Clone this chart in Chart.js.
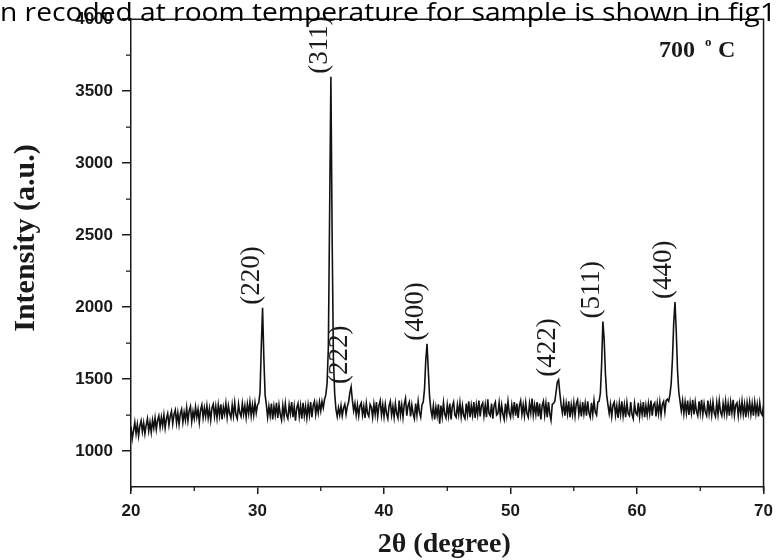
<!DOCTYPE html>
<html>
<head>
<meta charset="utf-8">
<script src="https://cdn.jsdelivr.net/npm/chart.js@4/dist/chart.umd.min.js"></script>
<style>
  body { margin: 0; background: #fff; }
  #wrap { width: 780px; height: 560px; }
</style>
</head>
<body>
<div id="wrap"><canvas id="xrd" width="780" height="560"></canvas></div>
<script>
// XRD pattern, 700 C sample. one value per 0.1 deg, 20.0 .. 70.0
const twoThetaStart = 20;
const twoThetaStep = 0.1;
const intensity = [
  1170, 1085, 1140, 1200, 1120, 1185, 1105, 1175, 1210, 1135,
  1195, 1120, 1180, 1225, 1140, 1200, 1130, 1215, 1160, 1230,
  1150, 1215, 1245, 1165, 1235, 1175, 1250, 1160, 1225, 1260,
  1180, 1240, 1275, 1190, 1255, 1285, 1195, 1265, 1185, 1260,
  1290, 1200, 1270, 1215, 1300, 1210, 1280, 1310, 1205, 1275,
  1225, 1305, 1235, 1290, 1200, 1285, 1320, 1230, 1300, 1240,
  1315, 1230, 1295, 1215, 1300, 1325, 1240, 1310, 1230, 1320,
  1245, 1325, 1220, 1305, 1255, 1330, 1235, 1315, 1260, 1230,
  1320, 1245, 1335, 1250, 1225, 1325, 1265, 1240, 1330, 1255,
  1315, 1235, 1325, 1260, 1340, 1245, 1320, 1250, 1335, 1265,
  1320, 1335, 1410, 1730, 1995, 1650, 1390, 1320, 1235, 1310,
  1245, 1330, 1220, 1310, 1250, 1335, 1230, 1320, 1255, 1215,
  1315, 1240, 1330, 1250, 1225, 1320, 1260, 1340, 1235, 1310,
  1210, 1300, 1330, 1240, 1315, 1225, 1335, 1245, 1310, 1230,
  1320, 1250, 1340, 1235, 1315, 1345, 1255, 1325, 1265, 1340,
  1280, 1345, 1300, 1360, 1390, 1470, 1720, 2650, 3600, 2480,
  1640, 1400, 1290, 1240, 1300, 1250, 1315, 1245, 1300, 1325,
  1255, 1310, 1340, 1405, 1445, 1350, 1280, 1330, 1250, 1320,
  1245, 1315, 1335, 1250, 1310, 1230, 1330, 1260, 1240, 1325,
  1305, 1235, 1325, 1255, 1340, 1240, 1315, 1350, 1250, 1320,
  1240, 1325, 1260, 1225, 1315, 1345, 1250, 1310, 1235, 1330,
  1260, 1230, 1350, 1250, 1320, 1235, 1325, 1365, 1245, 1315,
  1340, 1240, 1320, 1260, 1225, 1330, 1250, 1345, 1270, 1235,
  1320, 1340, 1430, 1630, 1745, 1560, 1380, 1290, 1240, 1315,
  1220, 1305, 1245, 1325, 1190, 1315, 1240, 1335, 1255, 1230,
  1320, 1245, 1330, 1220, 1310, 1340, 1250, 1235, 1320, 1255,
  1335, 1240, 1315, 1245, 1225, 1330, 1255, 1345, 1235, 1315,
  1250, 1340, 1230, 1320, 1255, 1350, 1240, 1315, 1335, 1245,
  1320, 1235, 1360, 1260, 1245, 1330, 1225, 1315, 1340, 1250,
  1260, 1335, 1240, 1320, 1255, 1220, 1330, 1250, 1345, 1265,
  1235, 1320, 1255, 1340, 1245, 1330, 1230, 1315, 1350, 1255,
  1320, 1245, 1335, 1260, 1235, 1330, 1265, 1365, 1250, 1320,
  1255, 1340, 1240, 1330, 1220, 1315, 1345, 1250, 1330, 1235,
  1340, 1260, 1215, 1325, 1330, 1345, 1410, 1480, 1495, 1400,
  1320, 1265, 1340, 1245, 1330, 1260, 1345, 1235, 1320, 1255,
  1335, 1245, 1330, 1355, 1255, 1320, 1240, 1340, 1260, 1330,
  1245, 1345, 1265, 1235, 1335, 1255, 1350, 1270, 1250, 1340,
  1345, 1400, 1600, 1900, 1780, 1540, 1390, 1320, 1260, 1325,
  1240, 1320, 1340, 1250, 1315, 1230, 1330, 1255, 1345, 1245,
  1320, 1235, 1335, 1260, 1245, 1340, 1255, 1225, 1330, 1265,
  1250, 1335, 1240, 1320, 1255, 1340, 1235, 1315, 1250, 1330,
  1260, 1350, 1245, 1320, 1335, 1240, 1330, 1260, 1340, 1250,
  1325, 1345, 1270, 1350, 1360, 1345, 1390, 1470, 1640, 1890,
  2035, 1830, 1560, 1410, 1345, 1280, 1350, 1260, 1340, 1265,
  1350, 1250, 1335, 1265, 1355, 1255, 1340, 1275, 1245, 1345,
  1265, 1355, 1255, 1330, 1270, 1245, 1350, 1260, 1330, 1250,
  1340, 1265, 1240, 1335, 1255, 1350, 1270, 1245, 1330, 1260,
  1345, 1255, 1330, 1245, 1340, 1265, 1355, 1250, 1320, 1335,
  1245, 1330, 1260, 1345, 1255, 1325, 1235, 1335, 1265, 1340,
  1255, 1330, 1245, 1340, 1260, 1325, 1240, 1335, 1265, 1250,
  1320
];

// reflections (hkl) with their peak position and top
const peakLabels = ['(220)', '(311)', '(222)', '(400)', '(422)', '(511)', '(440)'];
const peakPos = [30.4, 35.8, 37.4, 43.4, 53.8, 57.3, 63.0];
const peakTop = [1995, 3600, 1445, 1745, 1495, 1900, 2035];

const xTickValues = [20, 30, 40, 50, 60, 70];
const xMinorTicks = [25, 35, 45, 55, 65];
const yTickValues = [1000, 1500, 2000, 2500, 3000, 3500, 4000];
const yMinorTicks = [1250, 1750, 2250, 2750, 3250, 3750];

const ink = '#1a1a1a';
const points = intensity.map((v, i) => ({ x: +(twoThetaStart + i * twoThetaStep).toFixed(1), y: v }));

const decorPlugin = {
  id: 'decor',
  afterDraw(chart) {
    const ctx = chart.ctx;
    const a = chart.chartArea;
    const xs = chart.scales.x, ys = chart.scales.y;
    ctx.save();

    // frame top + right
    ctx.strokeStyle = ink;
    ctx.lineWidth = 1.5;
    ctx.beginPath();
    ctx.moveTo(a.left, a.top);
    ctx.lineTo(a.right, a.top);
    ctx.lineTo(a.right, a.bottom + 4);
    ctx.stroke();
    ctx.beginPath();
    ctx.moveTo(a.left, a.bottom);
    ctx.lineTo(a.left, a.bottom + 4);
    ctx.stroke();

    // minor ticks
    ctx.lineWidth = 1.3;
    ctx.beginPath();
    xMinorTicks.forEach(v => {
      const px = xs.getPixelForValue(v);
      ctx.moveTo(px, a.bottom);
      ctx.lineTo(px, a.bottom + 4);
    });
    yMinorTicks.forEach(v => {
      const py = ys.getPixelForValue(v);
      ctx.moveTo(a.left, py);
      ctx.lineTo(a.left - 5, py);
    });
    ctx.stroke();

    // peak labels, rotated
    ctx.fillStyle = ink;
    ctx.font = '27px "Liberation Serif", serif';
    ctx.textAlign = 'left';
    ctx.textBaseline = 'middle';
    peakLabels.forEach((lbl, i) => {
      const px = xs.getPixelForValue(peakPos[i]) - 11;
      const py = ys.getPixelForValue(peakTop[i]) - 3;
      ctx.save();
      ctx.translate(px, py);
      ctx.rotate(-Math.PI / 2);
      ctx.fillText(lbl, 0, 0);
      ctx.restore();
    });

    // axis titles
    ctx.font = 'bold 30px "Liberation Serif", serif';
    ctx.textAlign = 'center';
    ctx.save();
    ctx.translate(26, 238);
    ctx.rotate(-Math.PI / 2);
    ctx.fillText('Intensity (a.u.)', 0, 0);
    ctx.restore();
    ctx.font = 'bold 28px "Liberation Serif", serif';
    ctx.fillText('2\u03B8 (degree)', (a.left + a.right) / 2 - 3, 545);

    // temperature tag
    ctx.textAlign = 'left';
    ctx.textBaseline = 'alphabetic';
    ctx.font = 'bold 24px "Liberation Serif", serif';
    ctx.fillText('700', 659, 57);
    ctx.font = 'bold 13px "Liberation Serif", serif';
    ctx.fillText('o', 705, 46);
    ctx.font = 'bold 24px "Liberation Serif", serif';
    ctx.fillText('C', 718, 57);

    // stray sentence from the page the figure was cut from
    const line = 'n recoded at room temperature for sample is shown in fig1';
    ctx.font = '26px "Open Sans", sans-serif';
    ctx.fillStyle = '#000';
    const w = ctx.measureText(line).width;
    ctx.save();
    ctx.translate(0, 21);
    ctx.scale(776 / w, 1);
    ctx.fillText(line, 0, 0);
    ctx.restore();

    ctx.restore();
  }
};

new Chart(document.getElementById('xrd'), {
  type: 'line',
  data: {
    datasets: [{
      data: points,
      borderColor: '#111',
      borderWidth: 1.6,
      pointRadius: 0,
      tension: 0,
      fill: false
    }]
  },
  options: {
    responsive: false,
    animation: false,
    parsing: false,
    normalized: true,
    layout: { padding: { top: 19, right: 9, left: 0, bottom: 0 } },
    plugins: { legend: { display: false }, tooltip: { enabled: false } },
    scales: {
      x: {
        type: 'linear',
        min: 20,
        max: 70,
        afterFit: s => { s.height = 73; },
        afterBuildTicks: s => { s.ticks = xTickValues.map(v => ({ value: v })); },
        ticks: {
          color: ink,
          padding: 7,
          maxRotation: 0,
          callback: v => String(v),
          font: { family: '"Liberation Sans", Arial, sans-serif', size: 17, weight: 'bold' }
        },
        grid: { drawOnChartArea: false, drawTicks: true, tickLength: 7, color: ink, lineWidth: 1.5 },
        border: { display: true, color: ink, width: 1.5 }
      },
      y: {
        type: 'linear',
        min: 750,
        max: 4000,
        afterFit: s => { s.width = 131; },
        afterBuildTicks: s => { s.ticks = yTickValues.map(v => ({ value: v })); },
        ticks: {
          color: ink,
          padding: 9,
          callback: v => String(v),
          font: { family: '"Liberation Sans", Arial, sans-serif', size: 17, weight: 'bold' }
        },
        grid: { drawOnChartArea: false, drawTicks: true, tickLength: 9, color: ink, lineWidth: 1.5 },
        border: { display: true, color: ink, width: 1.5 }
      }
    }
  },
  plugins: [decorPlugin]
});
</script>
</body>
</html>
